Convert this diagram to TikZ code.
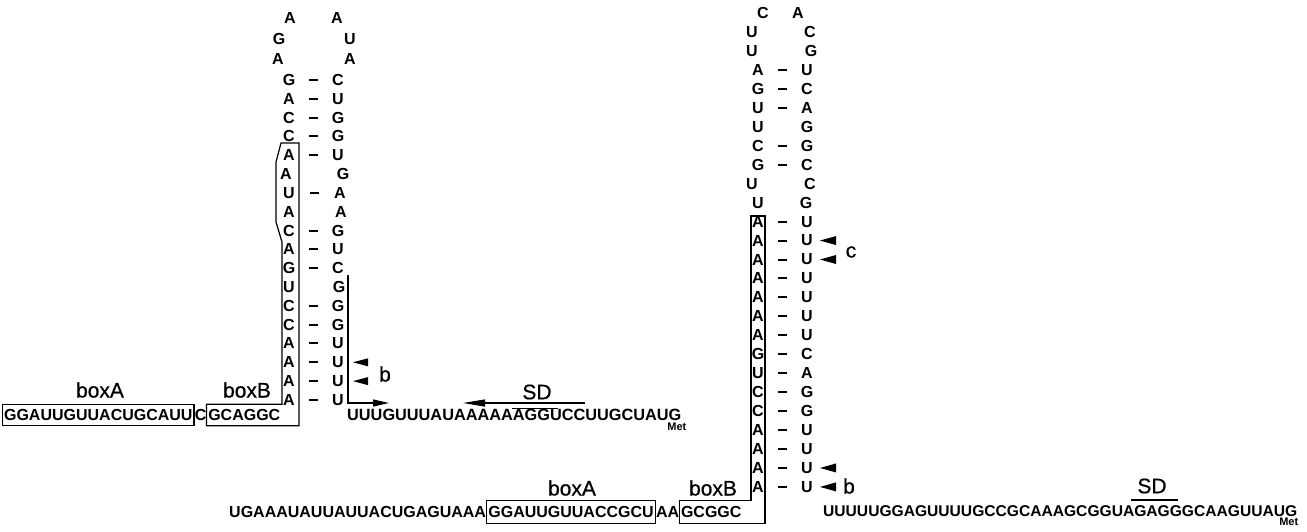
\documentclass[tikz,border=0pt]{standalone}
\usepackage{fontspec}
\setmainfont{Liberation Sans}
\newfontfamily\lblfont[FakeBold=0.6]{Liberation Sans}
\usetikzlibrary{arrows.meta,calc}

\begin{document}
\begin{tikzpicture}[x=1pt,y=-1pt,
  nt/.style={font=\fontsize{16}{16}\selectfont\bfseries, inner sep=0pt},
  seq/.style={nt, anchor=west},
  boxed/.style={draw, line width=1.2pt, inner xsep=1.5pt, minimum height=21pt},
  lbl/.style={font=\lblfont\fontsize{21}{21}\selectfont, inner sep=0pt},
  met/.style={font=\fontsize{11}{11}\selectfont\bfseries, inner sep=0pt, anchor=north east},
  bp/.style={fill, minimum width=9pt, minimum height=2pt, inner sep=0pt},
  outline/.style={draw, line width=1.2pt},
  ptr/.style={line width=1.2pt, -{Triangle[length=16pt,width=7pt]}},
]
\useasboundingbox (0,0) rectangle (1307,531);

% ---------- first hairpin ----------
\node[nt] (la1) at (278,59) {A};
\node[nt] (la2) at (279,39) {G};
\node[nt] (la3) at (290,18) {A};
\node[nt] (la4) at (337,18) {A};
\node[nt] (la5) at (350,39) {U};
\node[nt] (la6) at (350,59) {A};

\foreach \l/\r/\p/\xl/\xr [count=\k from 0] in {
  G/C/1/289/338, A/U/1/289/338, C/G/1/289/338, C/G/1/289/338,
  A/U/1/289/338, A/G/0/286/343, U/A/1/289/340, A/A/0/289/341,
  C/G/1/289/338, A/U/1/289/338, G/C/1/289/338, U/G/0/289/339,
  C/G/1/289/338, C/G/1/289/338, A/U/1/289/338, A/U/1/289/338,
  A/U/1/289/338, A/U/1/289/338}
{
  \node[nt] (p\k) at (\xl, 80+18.82*\k) {\l};
  \node[nt] (q\k) at (\xr, 80+18.82*\k) {\r};
  \ifnum\p=1 \path (p\k) -- node[bp]{} (q\k); \fi
}

% termination arrows and label
\foreach \k in {15,16}
  \fill ($(q\k)+(15,0)$) -- ++(15,-4) -- ++(0,8) -- cycle;
\node[lbl] (bL) at (385,374) {b};

% transcript end marker
\coordinate (vt) at (348,275);
\coordinate (vc) at (348,403);
\coordinate (ve) at (389,403);
\draw[ptr] (vt) -- (vc) -- (ve);

% upstream sequence with boxes
\node[seq, boxed] (bxA1) at (2,415) {GGAUUGUUACUGCAUU};
\node[seq] (c1) at (bxA1.east) {C};
\node[seq, inner xsep=1.5pt, minimum height=21pt] (bxB1) at (c1.east) {GCAGGC};
\path[outline] (bxB1.north west) -| (282,242) -- (276,222) -- (276,162)
  -- (281,143) -- (299,143) |- (bxB1.south west) -- cycle;
\node[lbl] (tA1) at (100,390) {boxA};
\node[lbl] (tB1) at (247,390) {boxB};

% downstream sequence
\node[seq, font=\fontsize{16.3}{16}\selectfont\bfseries] (d1) at (347,415) {UUUGUUUAUAAAAAAGGUCCUUGCUAUG};
\node[met] (m1) at ($(d1.south east)+(5,2)$) {Met};
\node[lbl] (sd1) at (537,392) {SD};
\coordinate (sa) at (585,403);
\coordinate (sb) at (463,403);
\draw[line width=1.2pt, -{Triangle[length=22pt,width=7pt]}] (sa) -- (sb);
\draw[line width=1.2pt] (512,408.5) -- (558,408.5);

% ---------- second hairpin ----------
\node[nt] (ra1) at (752,51) {U};
\node[nt] (ra2) at (752,32) {U};
\node[nt] (ra3) at (763,13) {C};
\node[nt] (ra4) at (798,13) {A};
\node[nt] (ra5) at (810,32) {C};
\node[nt] (ra6) at (811,51) {G};

\foreach \l/\r/\p/\xl/\xr [count=\k from 0] in {
  A/U/1/758/807, G/C/1/758/807, U/A/1/758/807, U/G/0/758/807,
  C/G/1/758/807, G/C/1/758/807, U/C/0/752/810, U/G/0/758/806,
  A/U/1/758/807, A/U/1/758/807, A/U/1/758/807, A/U/1/758/807,
  A/U/1/758/807, A/U/1/758/807, A/U/1/758/807, G/C/1/758/807,
  U/A/1/758/807, C/G/1/758/807, C/G/1/758/807, A/U/1/758/807,
  A/U/1/758/807, A/U/1/758/807, A/U/1/758/807}
{
  \node[nt] (s\k) at (\xl, 70+18.95*\k) {\l};
  \node[nt] (t\k) at (\xr, 70+18.95*\k) {\r};
  \ifnum\p=1 \path (s\k) -- node[bp]{} (t\k); \fi
}

\foreach \k in {9,10,21,22}
  \fill ($(t\k)+(13,0)$) -- ++(16,-4.5) -- ++(0,9) -- cycle;
\node[lbl] (cR) at (851,252) {c};
\node[lbl] (bR) at (849,486) {b};

% upstream sequence with boxes
\node[seq] (u2) at (229,512) {UGAAAUAUUAUUACUGAGUAAA};
\node[seq, boxed, minimum height=23pt] (bxA2) at (u2.east) {GGAUUGUUACCGCU};
\node[seq] (aa2) at (bxA2.east) {AA};
\node[seq, inner xsep=1.5pt, minimum height=23pt] (bxB2) at (aa2.east) {GCGGC};
\path[outline] (bxB2.north west) -| (751,216) -- (765,216)
  |- (bxB2.south west) -- cycle;
\node[lbl] (tA2) at (572,488) {boxA};
\node[lbl] (tB2) at (713,488) {boxB};

% downstream sequence
\node[seq, font=\fontsize{15.6}{16}\selectfont\bfseries] (d2) at (823,511) {UUUUUGGAGUUUUGCCGCAAAGCGGUAGAGGGCAAGUUAUG};
\node[met] (m2) at ($(d2.south east)+(1,1.5)$) {Met};
\node[lbl] (sd2) at (1152,486) {SD};
\draw[line width=1.2pt] (1131,500) -- (1178,500);
\end{tikzpicture}
\end{document}
